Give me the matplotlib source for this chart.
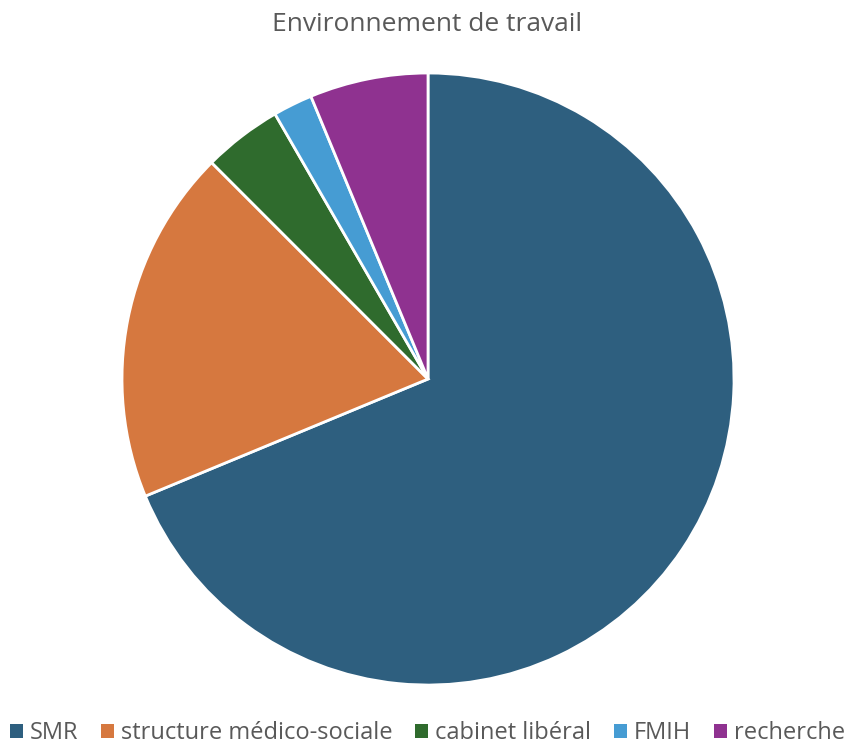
import matplotlib.pyplot as plt
from matplotlib.patches import Patch

plt.rcParams['font.family'] = ['Open Sans', 'DejaVu Sans']

# data
labels = ['SMR', 'structure médico-sociale', 'cabinet libéral', 'FMIH', 'recherche']
values = [33, 9, 2, 1, 3]
colors = ['#2E5F7F', '#D6783F', '#2F6B2D', '#469CD3', '#8F3290']

fig = plt.figure(figsize=(8.55, 7.45), dpi=100)
ax = fig.add_axes([0.1427, 0.0805, 0.7158, 0.8215])
ax.pie(values, colors=colors, startangle=90, counterclock=False, radius=1,
       wedgeprops=dict(edgecolor='white', linewidth=2))
ax.set_xlim(-1, 1)
ax.set_ylim(-1, 1)
ax.set_aspect('equal')
ax.axis('off')

fig.text(0.5, 0.967, 'Environnement de travail', ha='center', va='center',
         fontsize=19, color='#595959')

handles = [Patch(facecolor=c, edgecolor='none') for c in colors]
fig.legend(handles, labels, loc='center', bbox_to_anchor=(0.5, 0.016), ncol=5,
           frameon=False, fontsize=17, labelcolor='#595959',
           handlelength=0.55, handleheight=0.55, handletextpad=0.3, columnspacing=0.95,
           borderpad=0, borderaxespad=0)

plt.savefig('out.png')
